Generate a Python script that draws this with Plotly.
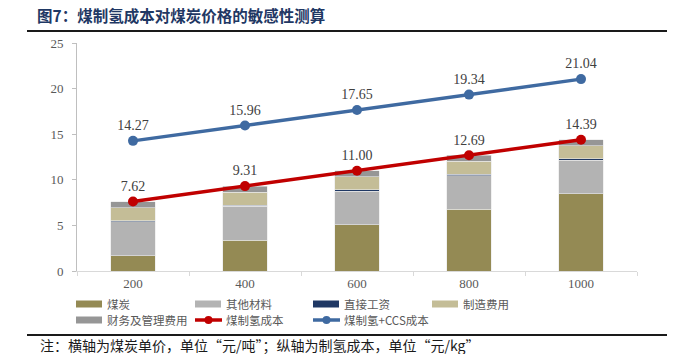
import plotly.graph_objects as go

# ---------------- data ----------------
prices = ["200", "400", "600", "800", "1000"]
coal = [1.69, 3.38, 5.07, 6.76, 8.46]
other_materials = [3.70, 3.70, 3.70, 3.70, 3.70]
labor = [0.13, 0.13, 0.13, 0.13, 0.13]
manufacturing = [1.43, 1.43, 1.43, 1.43, 1.43]
finance_mgmt = [0.67, 0.67, 0.67, 0.67, 0.67]
h2_cost = [7.62, 9.31, 11.00, 12.69, 14.39]
h2_ccs_cost = [14.27, 15.96, 17.65, 19.34, 21.04]
y_ticks = [0, 5, 10, 15, 20, 25]

bar_names = ["煤炭", "其他材料", "直接工资", "制造费用", "财务及管理费用"]
bar_values = [coal, other_materials, labor, manufacturing, finance_mgmt]
bar_colors = ["#948A54", "#B3B3B3", "#1F3864", "#C4BD97", "#969696"]
line_names = ["煤制氢成本", "煤制氢+CCS成本"]
line_values = [h2_cost, h2_ccs_cost]
line_colors = ["#C00000", "#3F6AA1"]

title_text = "图7：煤制氢成本对煤炭价格的敏感性测算"
note_text = "注：横轴为煤炭单价，单位“元/吨”；纵轴为制氢成本，单位“元/kg”"

W, H = 685, 354
L, R, T, B = 77, 48, 43, 83
PW, PH = W - L - R, H - T - B

def px(x):
    return (x - L) / PW

def py(y):
    return (H - B - y) / PH

SERIF = "Liberation Serif, Times New Roman, serif"
CJK = "Noto Sans CJK SC, sans-serif"

fig = go.Figure()
for name, vals, col in zip(bar_names, bar_values, bar_colors):
    fig.add_trace(go.Bar(x=prices, y=vals, name=name, marker_color=col,
                         marker_line_width=0.6, marker_line_color="#E8E8E8",
                         showlegend=False))
for name, vals, col in zip(line_names, line_values, line_colors):
    fig.add_trace(go.Scatter(x=prices, y=vals, name=name, mode="lines+markers+text",
                             line=dict(color=col, width=3.5),
                             marker=dict(color=col, size=10),
                             text=[f"{v:.2f}" for v in vals],
                             textposition="top center",
                             textfont=dict(family=SERIF, size=14, color="#404040"),
                             showlegend=False, cliponaxis=False))

shapes = []
annotations = []

# title and rules
annotations.append(dict(text=f"<b>{title_text}</b>", xref="paper", yref="paper",
                        x=px(35), y=py(15), xanchor="left", yanchor="middle",
                        showarrow=False, font=dict(family=CJK, size=15.5, color="#1F3864")))
shapes.append(dict(type="line", xref="paper", yref="paper", x0=px(27), x1=px(667),
                   y0=py(31), y1=py(31), line=dict(color="#1A1A1A", width=2)))
shapes.append(dict(type="line", xref="paper", yref="paper", x0=px(27), x1=px(667),
                   y0=py(335), y1=py(335), line=dict(color="#1A1A1A", width=2)))
annotations.append(dict(text=note_text, xref="paper", yref="paper",
                        x=px(38), y=py(345), xanchor="left", yanchor="middle",
                        showarrow=False, font=dict(family=CJK, size=14, color="#1A1A1A")))

# custom legend
cols_x = [76, 195, 313, 432]
rows_y = [304, 320]
entries = [(n, c, "bar") for n, c in zip(bar_names, bar_colors)] + \
          [(n, c, "line") for n, c in zip(line_names, line_colors)]
for i, (name, col, kind) in enumerate(entries):
    cx = cols_x[i % 4]
    cy = rows_y[i // 4]
    if kind == "bar":
        shapes.append(dict(type="rect", xref="paper", yref="paper", x0=px(cx), x1=px(cx + 26),
                           y0=py(cy + 3.5), y1=py(cy - 3.5), fillcolor=col, line=dict(width=0)))
    else:
        shapes.append(dict(type="line", xref="paper", yref="paper", x0=px(cx), x1=px(cx + 27),
                           y0=py(cy), y1=py(cy), line=dict(color=col, width=3.5)))
        shapes.append(dict(type="circle", xref="paper", yref="paper", x0=px(cx + 9.5), x1=px(cx + 17.5),
                           y0=py(cy + 4), y1=py(cy - 4), fillcolor=col, line=dict(width=0)))
    annotations.append(dict(text=name, xref="paper", yref="paper", x=px(cx + 29), y=py(cy),
                            xanchor="left", yanchor="middle", showarrow=False,
                            font=dict(family=CJK, size=11.5, color="#595959")))

fig.update_layout(
    width=W, height=H, barmode="stack", bargap=0.6,
    margin=dict(l=L, r=R, t=T, b=B),
    plot_bgcolor="white", paper_bgcolor="white",
    shapes=shapes, annotations=annotations, showlegend=False,
    xaxis=dict(type="category", showline=True, linecolor="#D9D9D9", linewidth=1,
               ticks="outside", tickson="boundaries", ticklen=4, tickcolor="#D9D9D9",
               showgrid=False, tickfont=dict(family=SERIF, size=13, color="#595959")),
    yaxis=dict(range=[0, 25], tickvals=y_ticks, showline=True, linecolor="#BFBFBF",
               linewidth=1, ticks="outside", ticklen=4, tickcolor="#BFBFBF",
               showgrid=False, zeroline=False, ticklabelstandoff=6,
               tickfont=dict(family=SERIF, size=13, color="#595959")),
)

fig.write_html("out.html")
